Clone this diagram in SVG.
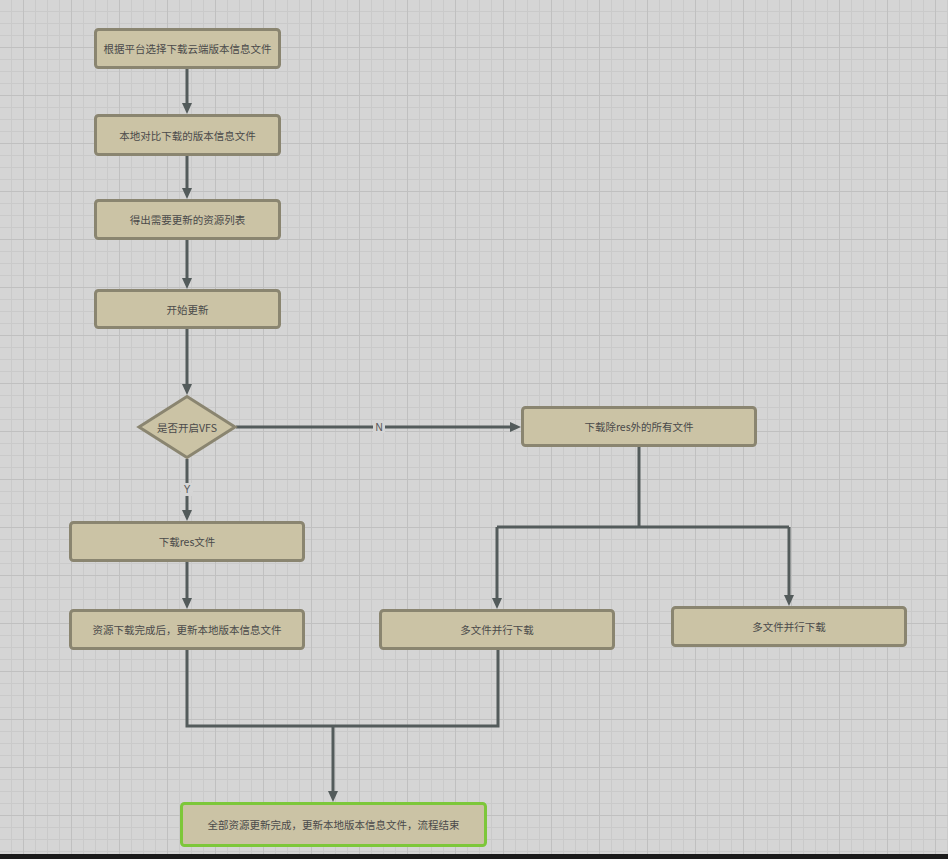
<svg xmlns="http://www.w3.org/2000/svg" width="948" height="859" viewBox="0 0 948 859">
<defs>
<pattern id="grid" patternUnits="userSpaceOnUse" x="0" y="0" width="48" height="48">
<rect width="48" height="48" fill="#d5d5d5"/>
<path d="M11.5 0V48M35.5 0V48M47.5 0V48M0 11.5H48M0 23.5H48M0 35.5H48" stroke="#cacaca" stroke-width="1"/>
<path d="M23.5 0V48M0 47.5H48" stroke="#c0c0c0" stroke-width="1"/>
</pattern>
<marker id="arr" markerUnits="userSpaceOnUse" markerWidth="12" markerHeight="12" refX="0" refY="6" orient="auto">
<path d="M0 1L11 6L0 11Z" fill="#535b5b"/>
</marker>
<style>
.box{fill:#cbc3a5;stroke:#8a8570;stroke-width:3}
.end{fill:#cbc3a5;stroke:#7dc73a;stroke-width:3}
.t{font-family:"Noto Sans CJK SC","Noto Sans",sans-serif;font-size:10.5px;fill:#4a4a4a;text-anchor:middle;dominant-baseline:central}
.lbl{font-family:"Liberation Sans","Noto Sans",sans-serif;font-size:10px;fill:#555;text-anchor:middle;dominant-baseline:central}
.c{fill:none;stroke:#535b5b;stroke-width:3}
</style>
</defs>
<rect width="948" height="859" fill="url(#grid)"/>
<rect x="0" y="854" width="948" height="5" fill="#1b1b1b"/>
<g id="connectors">
<path class="c" d="M187 69V103" marker-end="url(#arr)"/>
<path class="c" d="M187 156V188" marker-end="url(#arr)"/>
<path class="c" d="M187 240V278" marker-end="url(#arr)"/>
<path class="c" d="M187 329V384" marker-end="url(#arr)"/>
<path class="c" d="M187 459V510" marker-end="url(#arr)"/>
<path class="c" d="M236 427H510" marker-end="url(#arr)"/>
<path class="c" d="M639 447V527"/>
<path class="c" d="M497 527H789"/>
<path class="c" d="M497 527V598" marker-end="url(#arr)"/>
<path class="c" d="M789 527V595" marker-end="url(#arr)"/>
<path class="c" d="M187 562V598" marker-end="url(#arr)"/>
<path class="c" d="M187 650V726H498V650"/>
<path class="c" d="M333 726V791" marker-end="url(#arr)"/>
<rect x="373" y="421" width="12" height="12" fill="#d5d5d5"/>
<text class="lbl" x="379" y="427">N</text>
<rect x="181" y="483" width="12" height="13" fill="#d5d5d5"/>
<text class="lbl" x="187" y="489.5">Y</text>
</g>
<g id="n1"><rect class="box" x="95.5" y="29.5" width="184" height="38" rx="3"/><text class="t" x="187.5" y="48.5">根据平台选择下载云端版本信息文件</text></g>
<g id="n2"><rect class="box" x="95.5" y="115.5" width="184" height="39" rx="3"/><text class="t" x="187.5" y="135">本地对比下载的版本信息文件</text></g>
<g id="n3"><rect class="box" x="95.5" y="200.5" width="184" height="38" rx="3"/><text class="t" x="187.5" y="219.5">得出需要更新的资源列表</text></g>
<g id="n4"><rect class="box" x="95.5" y="290.5" width="184" height="37" rx="3"/><text class="t" x="187.5" y="309">开始更新</text></g>
<g id="n5"><polygon class="box" points="139,427 187,396.5 235,427 187,457.5"/><text class="t" x="187" y="427">是否开启VFS</text></g>
<g id="n6"><rect class="box" x="522.5" y="407.5" width="233" height="38" rx="3"/><text class="t" x="639" y="426.5">下载除res外的所有文件</text></g>
<g id="n7"><rect class="box" x="70.5" y="522.5" width="233" height="38" rx="3"/><text class="t" x="187" y="541.5">下载res文件</text></g>
<g id="n8"><rect class="box" x="70.5" y="610.5" width="233" height="38" rx="3"/><text class="t" x="187" y="629.5">资源下载完成后，更新本地版本信息文件</text></g>
<g id="n9"><rect class="box" x="380.5" y="610.5" width="233" height="38" rx="3"/><text class="t" x="497" y="629.5">多文件并行下载</text></g>
<g id="n10"><rect class="box" x="672.5" y="607.5" width="233" height="38" rx="3"/><text class="t" x="789" y="626.5">多文件并行下载</text></g>
<g id="n11"><rect class="end" x="181.5" y="803.5" width="304" height="42" rx="3"/><text class="t" x="333.5" y="824.5">全部资源更新完成，更新本地版本信息文件，流程结束</text></g>
</svg>
